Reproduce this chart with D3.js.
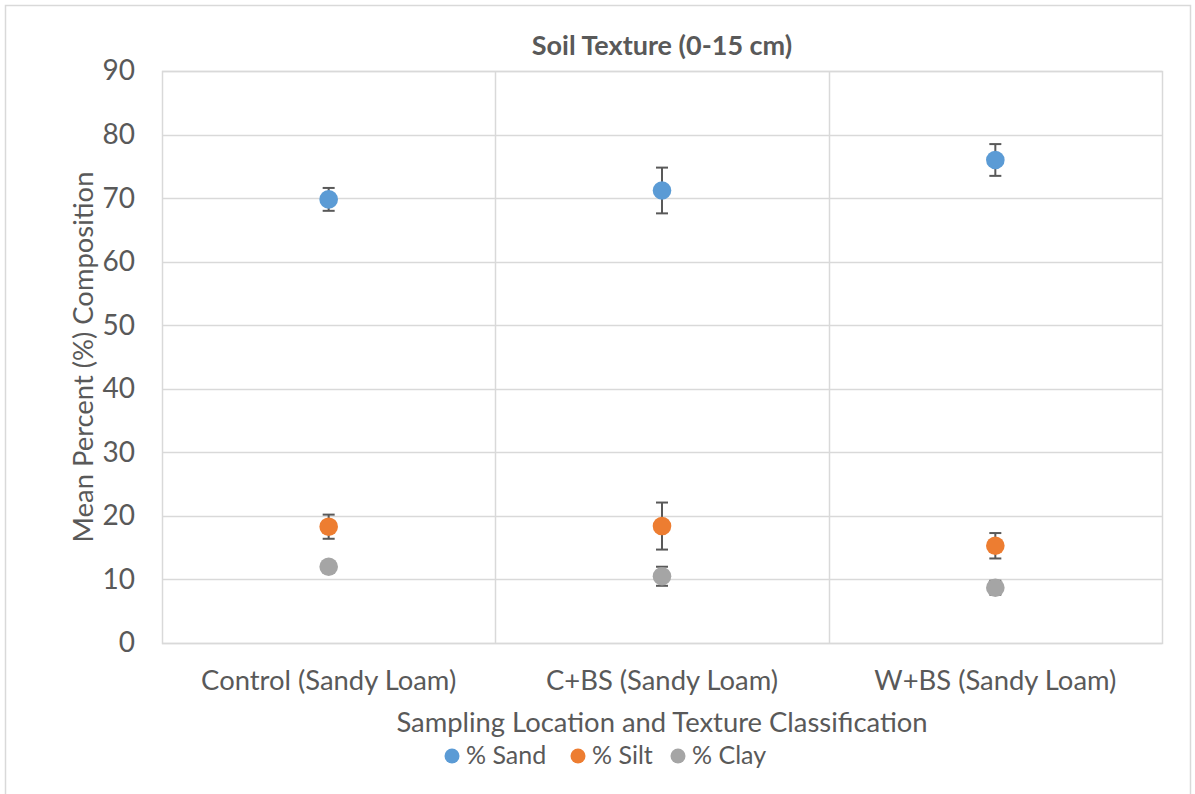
<!DOCTYPE html>
<html>
<head>
<meta charset="utf-8">
<script src="https://cdn.jsdelivr.net/npm/d3@7"></script>
<style>
  body { margin: 0; background: #fff; }
  svg { display: block; }
  text { font-family: Lato, "Open Sans", sans-serif; fill: #595959; }
</style>
</head>
<body>
<svg id="chart" width="1195" height="794"></svg>
<script>
// Sampling locations (with texture class)
const categories = ["Control (Sandy Loam)", "C+BS (Sandy Loam)", "W+BS (Sandy Loam)"];
// Mean percent composition per location
const sandMean = [69.8, 71.2, 76.0];
const siltMean = [18.3, 18.4, 15.3];
const clayMean = [12.0, 10.5, 8.7];
// Error bar half-widths (±)
const sandErr = [1.8, 3.6, 2.5];
const siltErr = [1.9, 3.7, 2.0];
const clayErr = [0.3, 1.5, 1.1];
const yTicks = [0, 10, 20, 30, 40, 50, 60, 70, 80, 90];

const series = [
  { name: "% Sand", color: "#5B9BD5", mean: sandMean, err: sandErr },
  { name: "% Silt", color: "#ED7D31", mean: siltMean, err: siltErr },
  { name: "% Clay", color: "#A5A5A5", mean: clayMean, err: clayErr }
];

const svg = d3.select("#chart");
const m = { left: 162, top: 71, right: 1162, bottom: 643 };

// chart frame
svg.append("rect").attr("x", 5.5).attr("y", 5.5).attr("width", 1185).attr("height", 800)
  .attr("fill", "#fff").attr("stroke", "#D9D9D9").attr("stroke-width", 1.5);

const x = d3.scaleBand().domain(categories).range([m.left, m.right]);
const y = d3.scaleLinear().domain([0, 90]).range([m.bottom, m.top]);

// horizontal gridlines
svg.append("g").selectAll("line").data(yTicks).join("line")
  .attr("x1", m.left).attr("x2", m.right)
  .attr("y1", d => Math.round(y(d)) + 0.5).attr("y2", d => Math.round(y(d)) + 0.5)
  .attr("stroke", "#D9D9D9").attr("stroke-width", 1.5);

// vertical separators between categories
svg.append("g").selectAll("line").data(categories.slice(1)).join("line")
  .attr("x1", d => Math.round(x(d)) + 0.5).attr("x2", d => Math.round(x(d)) + 0.5)
  .attr("y1", m.top).attr("y2", m.bottom)
  .attr("stroke", "#D9D9D9").attr("stroke-width", 1.5);

// plot area border
svg.append("rect").attr("x", m.left + 0.5).attr("y", m.top + 0.5)
  .attr("width", m.right - m.left).attr("height", m.bottom - m.top)
  .attr("fill", "none").attr("stroke", "#D9D9D9").attr("stroke-width", 1.5);

// y tick labels
const yAxis = d3.axisLeft(y).tickValues(yTicks).tickSize(0).tickPadding(27);
const yg = svg.append("g").attr("transform", `translate(${m.left},0)`).call(yAxis);
yg.select(".domain").remove();
yg.selectAll("text").style("font-family", "Lato, sans-serif").style("font-size", "28px").attr("fill", "#595959");

// x category labels
const xAxis = d3.axisBottom(x).tickSize(0).tickPadding(28);
const xg = svg.append("g").attr("transform", `translate(0,${m.bottom})`).call(xAxis);
xg.select(".domain").remove();
xg.selectAll("text").style("font-family", "Lato, sans-serif").style("font-size", "27.4px").attr("fill", "#595959");

// error bars and markers
const cx = c => x(c) + x.bandwidth() / 2;
series.forEach(s => {
  const g = svg.append("g");
  const rows = categories.map((c, i) => ({ c, v: s.mean[i], e: s.err[i] }));
  g.selectAll("line.stem").data(rows).join("line").attr("class", "stem")
    .attr("x1", d => cx(d.c)).attr("x2", d => cx(d.c))
    .attr("y1", d => y(d.v + d.e)).attr("y2", d => y(d.v - d.e))
    .attr("stroke", "#595959").attr("stroke-width", 2);
  [1, -1].forEach(sign => {
    g.selectAll("line.cap" + sign).data(rows).join("line")
      .attr("x1", d => cx(d.c) - 6).attr("x2", d => cx(d.c) + 6)
      .attr("y1", d => y(d.v + sign * d.e)).attr("y2", d => y(d.v + sign * d.e))
      .attr("stroke", "#595959").attr("stroke-width", 2);
  });
  g.selectAll("circle").data(rows).join("circle")
    .attr("cx", d => cx(d.c)).attr("cy", d => y(d.v)).attr("r", 9.3)
    .attr("fill", s.color);
});

// title
svg.append("text").attr("x", (m.left + m.right) / 2).attr("y", 55)
  .attr("text-anchor", "middle").style("font-size", "27px").style("font-weight", "bold")
  .text("Soil Texture (0-15 cm)");

// axis titles
svg.append("text").attr("transform", `translate(93,${(m.top + m.bottom) / 2}) rotate(-90)`)
  .attr("text-anchor", "middle").style("font-size", "27.4px")
  .text("Mean Percent (%) Composition");
svg.append("text").attr("x", (m.left + m.right) / 2).attr("y", 732)
  .attr("text-anchor", "middle").style("font-size", "27.4px")
  .text("Sampling Location and Texture Classification");

// legend
const legendX = [452, 578, 678];
const lg = svg.append("g");
series.forEach((s, i) => {
  lg.append("circle").attr("cx", legendX[i]).attr("cy", 756).attr("r", 7.5).attr("fill", s.color);
  lg.append("text").attr("x", legendX[i] + 14).attr("y", 764).style("font-size", "25px").text(s.name);
});
</script>
</body>
</html>
